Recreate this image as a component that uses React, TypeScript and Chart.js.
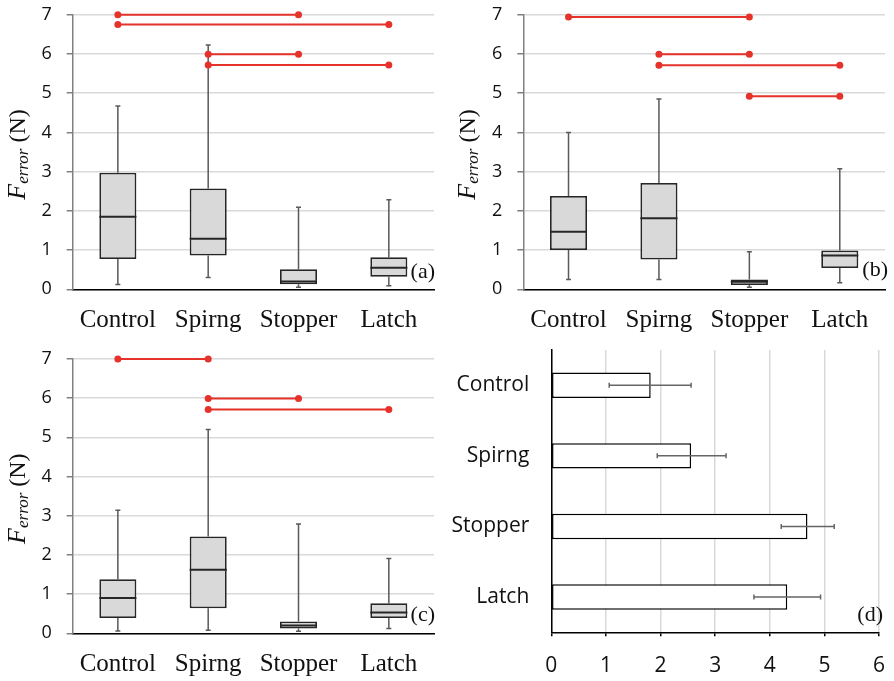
import React, { useEffect, useRef } from 'react';
import { Chart, registerables } from 'chart.js';
Chart.register(...registerables);

const SERIF = '"Liberation Serif", "DejaVu Serif", serif';
const SANS = '"Open Sans", "Noto Sans", sans-serif';
const RED = '#e5322a';

const categories = ['Control', 'Spirng', 'Stopper', 'Latch'];

// Panel (a)
const aMin = [0.12, 0.30, 0.05, 0.09];
const aQ1 = [0.77, 0.86, 0.13, 0.32];
const aMed = [1.85, 1.29, 0.20, 0.55];
const aQ3 = [2.97, 2.57, 0.51, 0.82];
const aMax = [4.67, 6.23, 2.09, 2.28];
const aSig: [string, string, number][] = [
  ['Control', 'Stopper', 7.0],
  ['Control', 'Latch', 6.75],
  ['Spirng', 'Stopper', 5.99],
  ['Spirng', 'Latch', 5.72],
];

// Panel (b)
const bMin = [0.25, 0.25, 0.05, 0.17];
const bQ1 = [1.0, 0.76, 0.11, 0.54];
const bMed = [1.47, 1.81, 0.19, 0.86];
const bQ3 = [2.38, 2.71, 0.25, 0.99];
const bMax = [4.0, 4.85, 0.96, 3.07];
const bSig: [string, string, number][] = [
  ['Control', 'Stopper', 6.94],
  ['Spirng', 'Stopper', 5.99],
  ['Spirng', 'Latch', 5.71],
  ['Stopper', 'Latch', 4.92],
];

// Panel (c)
const cMin = [0.06, 0.08, 0.05, 0.12];
const cQ1 = [0.39, 0.64, 0.12, 0.39];
const cMed = [0.90, 1.62, 0.20, 0.53];
const cQ3 = [1.38, 2.47, 0.30, 0.77];
const cMax = [3.14, 5.20, 2.79, 1.91];
const cSig: [string, string, number][] = [
  ['Control', 'Spirng', 7.0],
  ['Spirng', 'Stopper', 5.99],
  ['Spirng', 'Latch', 5.71],
];

// Panel (d)
const dValues = [1.82, 2.56, 4.69, 4.32];
const dErrLow = [1.06, 1.94, 4.21, 3.71];
const dErrHigh = [2.56, 3.20, 5.18, 4.93];

function zeroPad(sc: any) {
  sc.paddingTop = 0;
  sc.paddingBottom = 0;
  sc.paddingLeft = 0;
  sc.paddingRight = 0;
}

function drawYTitle(ctx: CanvasRenderingContext2D, x: number, cy: number) {
  ctx.save();
  ctx.translate(x, cy);
  ctx.rotate(-Math.PI / 2);
  ctx.fillStyle = '#111';
  ctx.textBaseline = 'alphabetic';
  ctx.textAlign = 'left';
  const fF = `italic 26px ${SERIF}`;
  const fSub = `italic 17px ${SERIF}`;
  const fRest = `24px ${SERIF}`;
  ctx.font = fF;
  const wF = ctx.measureText('F').width;
  ctx.font = fSub;
  const wSub = ctx.measureText('error').width;
  ctx.font = fRest;
  const wRest = ctx.measureText(' (N)').width;
  let px = -(wF + wSub + wRest) / 2;
  ctx.font = fF;
  ctx.fillText('F', px, 0);
  px += wF;
  ctx.font = fSub;
  ctx.fillText('error', px, 3);
  px += wSub;
  ctx.font = fRest;
  ctx.fillText(' (N)', px, 0);
  ctx.restore();
}

function drawPanelLabel(ctx: CanvasRenderingContext2D, text: string, x: number, y: number) {
  ctx.save();
  ctx.font = `22px ${SERIF}`;
  ctx.fillStyle = '#111';
  ctx.textAlign = 'right';
  ctx.textBaseline = 'middle';
  ctx.fillText(text, x, y);
  ctx.restore();
}

type BoxSpec = {
  min: number[]; q1: number[]; med: number[]; q3: number[]; max: number[];
  sig: [string, string, number][];
  label: string;
  yAxisWidth: number;
  xAxisHeight: number;
  padTop: number;
  padRight: number;
  labelDx: number;
  labelDy: number;
};

function boxConfig(s: BoxSpec): any {
  const extras = {
    id: 'boxExtras',
    beforeDatasetsDraw(chart: any) {
      const ctx = chart.ctx;
      const meta = chart.getDatasetMeta(0);
      const ys = chart.scales.y;
      ctx.save();
      ctx.strokeStyle = '#595959';
      ctx.lineWidth = 1.5;
      meta.data.forEach((el: any, i: number) => {
        const x = el.x;
        const segs = [[s.q3[i], s.max[i]], [s.q1[i], s.min[i]]];
        segs.forEach(([a, b]) => {
          const ya = ys.getPixelForValue(a);
          const yb = ys.getPixelForValue(b);
          ctx.beginPath();
          ctx.moveTo(x, ya);
          ctx.lineTo(x, yb);
          ctx.moveTo(x - 2.5, yb);
          ctx.lineTo(x + 2.5, yb);
          ctx.stroke();
        });
      });
      ctx.restore();
    },
    afterDatasetsDraw(chart: any) {
      const ctx = chart.ctx;
      const meta = chart.getDatasetMeta(0);
      const ys = chart.scales.y;
      ctx.save();
      ctx.strokeStyle = '#262626';
      ctx.lineWidth = 2;
      meta.data.forEach((el: any, i: number) => {
        const y = ys.getPixelForValue(s.med[i]);
        ctx.beginPath();
        ctx.moveTo(el.x - el.width / 2, y);
        ctx.lineTo(el.x + el.width / 2, y);
        ctx.stroke();
      });
      ctx.restore();
    },
    afterDraw(chart: any) {
      const ctx = chart.ctx;
      const ca = chart.chartArea;
      drawYTitle(ctx, 25, (ca.top + ca.bottom) / 2 + 2.5);
      drawPanelLabel(ctx, s.label, ca.right + s.labelDx, ca.bottom - s.labelDy);
    },
  };
  const datasets: any[] = [
    {
      type: 'bar',
      data: s.q1.map((v, i) => [v, s.q3[i]]),
      backgroundColor: '#d9d9d9',
      borderColor: '#262626',
      borderWidth: 1.8,
      borderSkipped: false,
      barPercentage: 0.41,
      categoryPercentage: 1,
      order: 2,
    },
    ...s.sig.map(([from, to, y]) => ({
      type: 'line',
      data: [{ x: from, y }, { x: to, y }],
      borderColor: RED,
      backgroundColor: RED,
      borderWidth: 2,
      pointRadius: 3.5,
      pointBorderWidth: 0,
      pointBackgroundColor: RED,
      clip: false,
      order: 0,
    })),
  ];
  return {
    type: 'bar',
    data: { labels: categories, datasets },
    plugins: [extras],
    options: {
      responsive: false,
      animation: false,
      events: [],
      layout: { padding: { left: 0, top: s.padTop, right: s.padRight, bottom: 0 } },
      plugins: { legend: { display: false }, tooltip: { enabled: false } },
      scales: {
        x: {
          type: 'category',
          offset: true,
          grid: { display: false, drawTicks: false, tickLength: 0 },
          border: { display: true, color: '#000', width: 1.5 },
          ticks: { color: '#111', font: { family: SERIF, size: 25 }, padding: 16, maxRotation: 0 },
          afterFit: (sc: any) => { sc.height = s.xAxisHeight; zeroPad(sc); },
        },
        y: {
          min: 0,
          max: 7,
          ticks: { stepSize: 1, color: '#111', font: { family: SANS, size: 18 }, padding: 15 },
          grid: { color: '#d9d9d9', lineWidth: 1.5, tickColor: '#808080', tickLength: 6 },
          border: { display: true, color: '#808080', width: 1.5 },
          afterFit: (sc: any) => { sc.width = s.yAxisWidth; zeroPad(sc); },
        },
      },
    },
  };
}

function barConfig(): any {
  const extras = {
    id: 'errExtras',
    afterDatasetsDraw(chart: any) {
      const ctx = chart.ctx;
      const meta = chart.getDatasetMeta(0);
      const xs = chart.scales.x;
      ctx.save();
      ctx.strokeStyle = '#666';
      ctx.lineWidth = 1.5;
      meta.data.forEach((el: any, i: number) => {
        const y = el.y;
        const x1 = xs.getPixelForValue(dErrLow[i]);
        const x2 = xs.getPixelForValue(dErrHigh[i]);
        ctx.beginPath();
        ctx.moveTo(x1, y);
        ctx.lineTo(x2, y);
        ctx.moveTo(x1, y - 2.5);
        ctx.lineTo(x1, y + 2.5);
        ctx.moveTo(x2, y - 2.5);
        ctx.lineTo(x2, y + 2.5);
        ctx.stroke();
      });
      ctx.restore();
    },
    afterDraw(chart: any) {
      const ca = chart.chartArea;
      drawPanelLabel(chart.ctx, '(d)', ca.right + 4, ca.bottom - 17);
    },
  };
  return {
    type: 'bar',
    data: {
      labels: categories,
      datasets: [
        {
          data: dValues,
          backgroundColor: '#ffffff',
          borderColor: '#000',
          borderWidth: 1.5,
          borderSkipped: false,
          barPercentage: 0.36,
          categoryPercentage: 1,
        },
      ],
    },
    plugins: [extras],
    options: {
      indexAxis: 'y',
      responsive: false,
      animation: false,
      events: [],
      layout: { padding: { left: 0, top: 10, right: 15, bottom: 0 } },
      plugins: { legend: { display: false }, tooltip: { enabled: false } },
      scales: {
        x: {
          min: 0,
          max: 6,
          ticks: { stepSize: 1, color: '#111', font: { family: SANS, size: 21 }, padding: 17 },
          grid: { color: '#d9d9d9', lineWidth: 1.5, tickColor: '#000', tickLength: 4 },
          border: { display: true, color: '#000', width: 1.5 },
          afterFit: (sc: any) => { sc.height = 48.7; zeroPad(sc); },
        },
        y: {
          type: 'category',
          offset: true,
          grid: { display: false, drawTicks: false, tickLength: 0 },
          border: { display: true, color: '#000', width: 1.5 },
          ticks: { color: '#111', font: { family: SANS, size: 21 }, padding: 22 },
          afterFit: (sc: any) => { sc.width = 101.3; zeroPad(sc); },
        },
      },
    },
  };
}

function Panel({ left, top, width, height, config }: any) {
  const ref = useRef<HTMLCanvasElement>(null);
  useEffect(() => {
    if (!ref.current) return;
    const chart = new Chart(ref.current, config);
    return () => chart.destroy();
  }, []);
  return (
    <canvas
      ref={ref}
      width={width}
      height={height}
      style={{ position: 'absolute', left, top, width, height }}
    />
  );
}

export default function App() {
  const a = boxConfig({
    min: aMin, q1: aQ1, med: aMed, q3: aQ3, max: aMax, sig: aSig, label: '(a)',
    yAxisWidth: 72.7, xAxisHeight: 50.7, padTop: 14.7, padRight: 13,
    labelDx: 1, labelDy: 17,
  });
  const b = boxConfig({
    min: bMin, q1: bQ1, med: bMed, q3: bQ3, max: bMax, sig: bSig, label: '(b)',
    yAxisWidth: 73.3, xAxisHeight: 50.7, padTop: 14.7, padRight: 9,
    labelDx: 3, labelDy: 19,
  });
  const c = boxConfig({
    min: cMin, q1: cQ1, med: cMed, q3: cQ3, max: cMax, sig: cSig, label: '(c)',
    yAxisWidth: 72.7, xAxisHeight: 47.7, padTop: 19, padRight: 13,
    labelDx: 1, labelDy: 18,
  });
  const d = barConfig();
  return (
    <div style={{ position: 'fixed', left: 0, top: 0, width: 894, height: 681, background: '#fff' }}>
      <Panel left={0} top={0} width={447} height={340} config={a} />
      <Panel left={450} top={0} width={444} height={340} config={b} />
      <Panel left={0} top={340} width={447} height={341} config={c} />
      <Panel left={450} top={340} width={444} height={341} config={d} />
    </div>
  );
}
